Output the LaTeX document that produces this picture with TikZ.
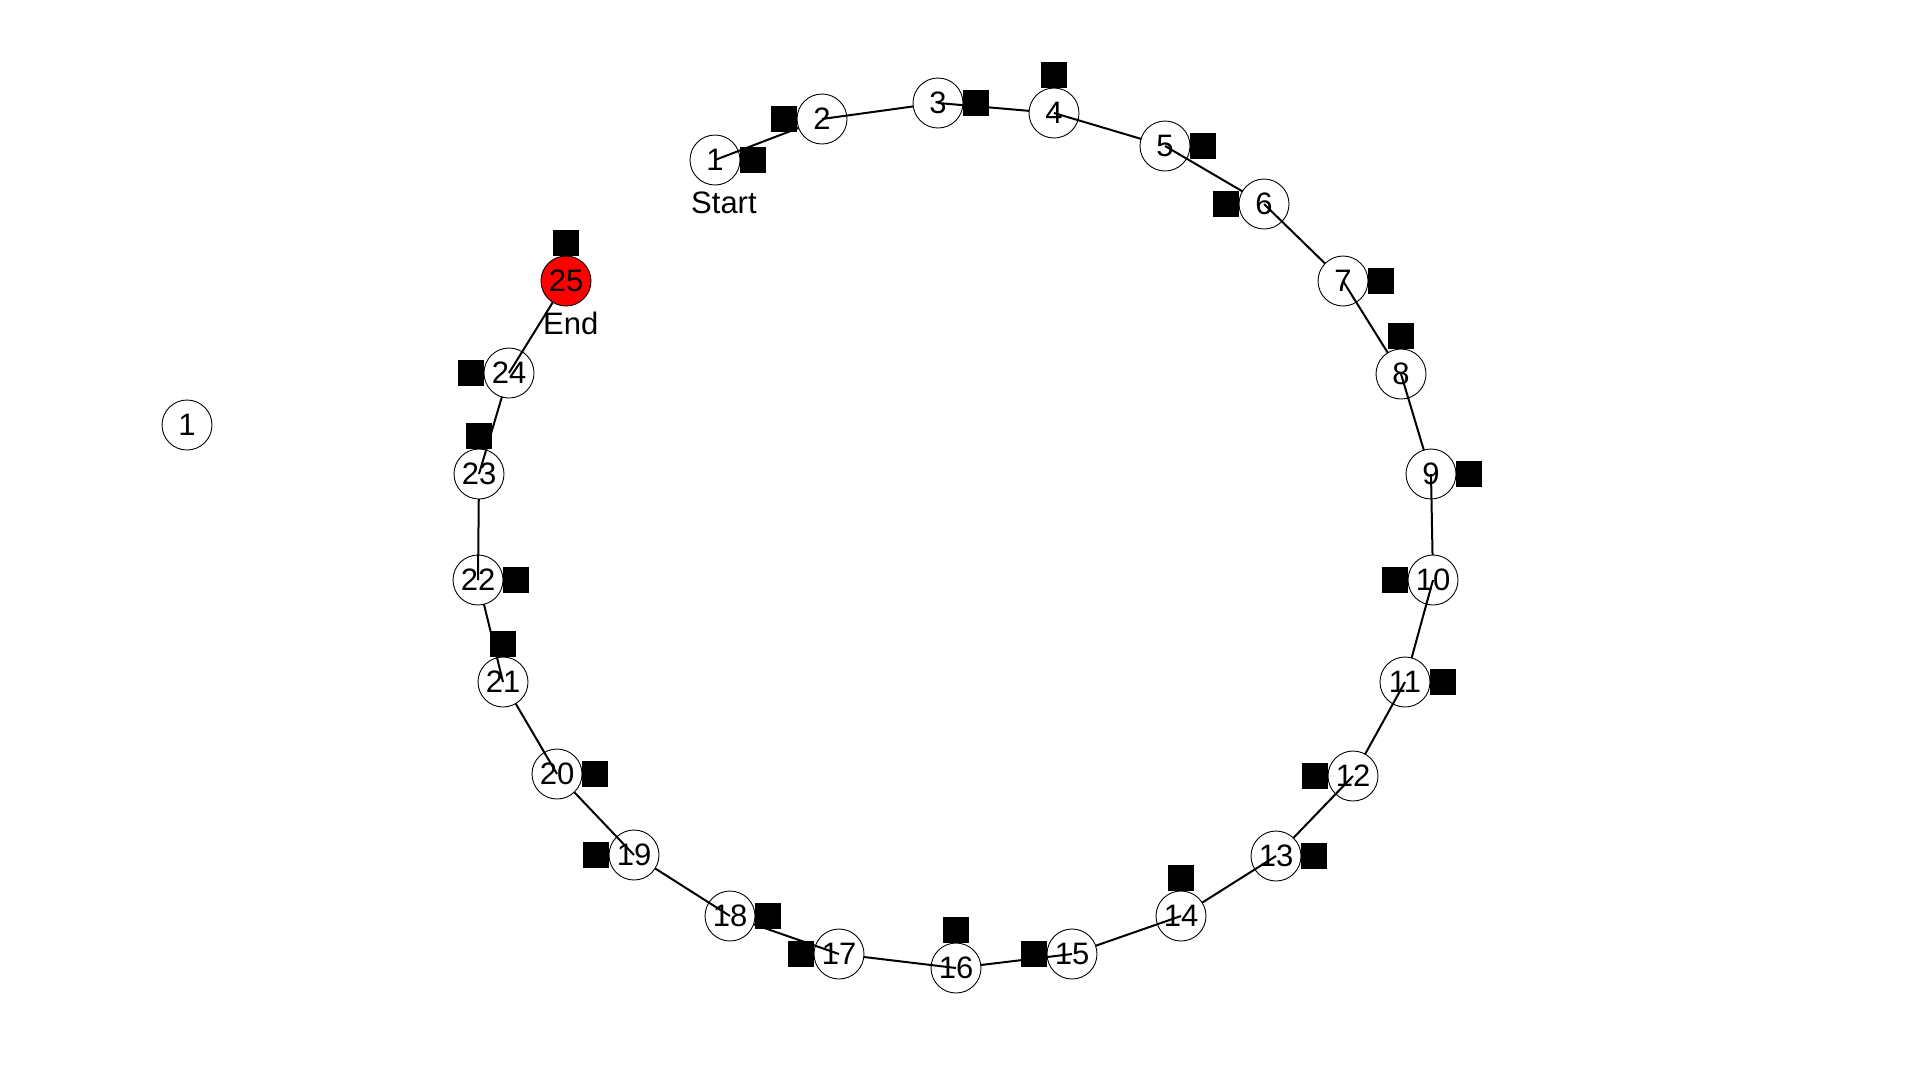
\documentclass[tikz,border=0pt]{standalone}
\usepackage{fontspec}
\setmainfont{Liberation Sans}
\begin{document}
\begin{tikzpicture}[x=1pt,y=-1pt,
  vtx/.style={circle,draw=black,line width=0.9pt,fill=white,minimum size=50pt,inner sep=0pt,font=\fontsize{31}{36}\selectfont},
  endvtx/.style={vtx,fill=red},
  mk/.style={rectangle,fill=black,minimum size=26pt,inner sep=0pt},
  edge/.style={line width=2pt,black},
  lbl/.style={anchor=base west,inner sep=0pt,font=\fontsize{31}{36}\selectfont}]
\useasboundingbox (0,0) rectangle (1920,1080);
% positions
\foreach \i/\x/\y in {1/715/160,2/822/119,3/938/103,4/1054/113,5/1165/146,6/1264/204,
  7/1343/281,8/1401/374,9/1431/474,10/1433/580,11/1405/682,12/1353/776,13/1276/856,
  14/1181/916,15/1072/954,16/956/968,17/839/954,18/730/916,19/634/855,20/557/774,
  21/503/682,22/478/580,23/479/474,24/509/373,25/566/281}
  {\coordinate (c\i) at (\x,\y);}
% nodes and path
\foreach \i in {1,...,24} {
  \pgfmathtruncatemacro{\j}{\i+1}
  \node[vtx] (n\i) at (c\i) {\i};
  \draw[edge] (n\i.center) -- (c\j);
}
\node[endvtx] (n25) at (c25) {25};
% isolated node
\node[vtx] (iso) at (187,425) {1};
% markers
\foreach \i/\dx/\dy in {1/38/0,2/-38/0,3/38/0,4/0/-38,5/38/0,6/-38/0,7/38/0,8/0/-38,
  9/38/0,10/-38/0,11/38/0,12/-38/0,13/38/0,14/0/-38,15/-38/0,16/0/-38,17/-38/0,
  18/38/0,19/-38/0,20/38/0,21/0/-38,22/38/0,23/0/-38,24/-38/0,25/0/-38}
  {\node[mk] (s\i) at ([shift={(\dx,\dy)}]n\i.center) {};}
% labels
\node[lbl] (start) at ([shift={(-24,53)}]n1.center) {Start};
\node[lbl] (endl) at ([shift={(-23,53)}]n25.center) {End};
\end{tikzpicture}
\end{document}
